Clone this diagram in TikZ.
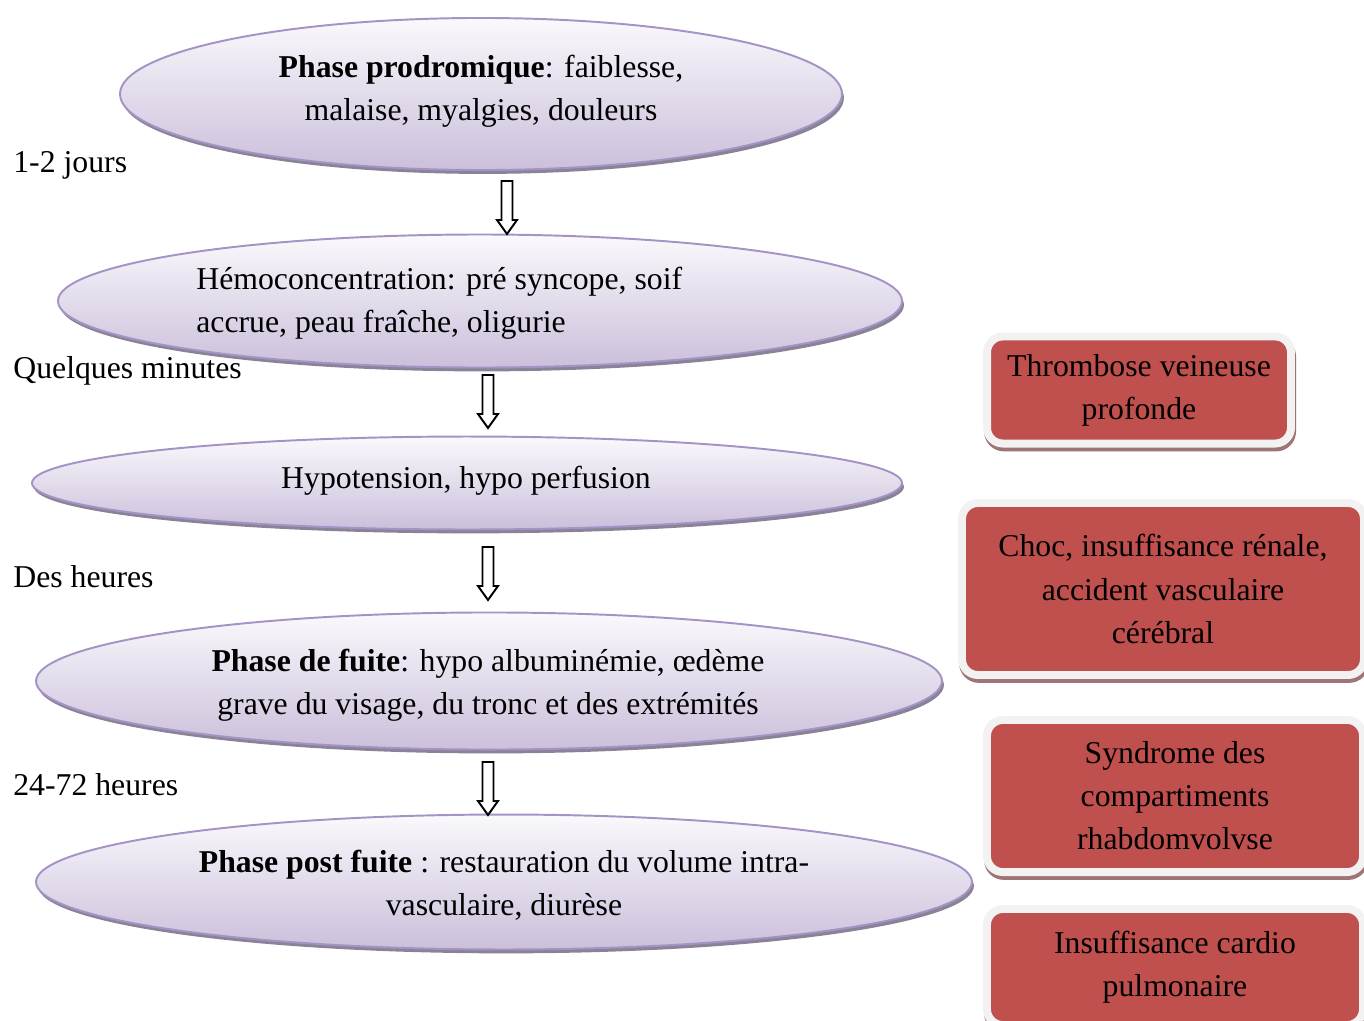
\documentclass[tikz,border=0pt]{standalone}
\usepackage{fontspec}
\setmainfont{Liberation Serif}
\usetikzlibrary{shapes.geometric,shadows}
\definecolor{lavtop}{HTML}{FAF9FC}
\definecolor{lavbot}{HTML}{CBBFDB}
\definecolor{lavline}{HTML}{A493C4}
\definecolor{lavshadow}{HTML}{8A8296}
\definecolor{boxred}{HTML}{C0504D}
\definecolor{boxrim}{HTML}{F2F2F2}
\definecolor{redshadow}{HTML}{9E7474}
\newcommand\hollowarrow[4]{% name, x, ytop, ytip
  \coordinate (#1) at (#2,#3);
  \draw[arrowline] (#2-5.5,#3) -- (#2+5.5,#3) -- (#2+5.5,#4-14) -- (#2+10,#4-14)
    -- (#2,#4) -- (#2-10,#4-14) -- (#2-5.5,#4-14) -- cycle;}
\begin{document}
\begin{tikzpicture}[x=0.5669pt,y=-0.5669pt,
  font=\fontsize{18}{24.4}\selectfont,
  phase/.style={ellipse, draw=lavline, line width=1.1pt, top color=lavtop, bottom color=lavbot,
    inner sep=0pt, general shadow={fill=lavshadow, shadow xshift=1.1pt, shadow yshift=-2.2pt}},
  txt/.style={inner sep=0pt, align=center, text=black},
  lbl/.style={inner sep=0pt, anchor=west, text=black},
  rbox/.style={rectangle, rounded corners=9pt, fill=boxred, draw=boxrim, line width=4.5pt,
    align=center, inner sep=0pt, text=black,
    general shadow={fill=redshadow, draw=redshadow, line width=4.5pt, shadow xshift=0.6pt, shadow yshift=-2.2pt}},
  arrowline/.style={draw=black, line width=1.1pt, fill=white, line join=miter}
]
\useasboundingbox (0,0) rectangle (1364,1021);

% ellipses
\node[phase, minimum width=409.3pt, minimum height=86.2pt] (e1) at (481,94) {};
\node[phase, minimum width=478.5pt, minimum height=75.4pt] (e2) at (480,301) {};
\node[phase, minimum width=493.2pt, minimum height=52.7pt] (e3) at (467,483) {};
\node[phase, minimum width=513.6pt, minimum height=77.7pt] (e4) at (489,681) {};
\node[phase, minimum width=530.6pt, minimum height=76.5pt] (e5) at (504,882) {};

% ellipse texts
\node[txt] (t1) at (481,91) {\textbf{Phase prodromique}: faiblesse,\\malaise, myalgies, douleurs};
\node[txt, align=left, anchor=west] (t2) at (196,303) {Hémoconcentration: pré syncope, soif\\accrue, peau fraîche, oligurie};
\node[txt] (t3) at (466,481) {Hypotension, hypo perfusion};
\node[txt] (t4) at (488,685) {\textbf{Phase de fuite}: hypo albuminémie, œdème\\grave du visage, du tronc et des extrémités};
\node[txt] (t5) at (504,885) {\textbf{Phase post fuite} : restauration du volume intra-\\vasculaire, diurèse};

% time labels
\node[lbl] (l1) at (13,165) {1-2 jours};
\node[lbl] (l2) at (13,371) {Quelques minutes};
\node[lbl] (l3) at (13,577) {Des heures};
\node[lbl] (l4) at (13,785) {24-72 heures};

% hollow arrows
\hollowarrow{a1}{507}{181}{234}
\hollowarrow{a2}{488}{375}{428}
\hollowarrow{a3}{488}{547}{600}
\hollowarrow{a4}{488}{762}{815}

% complication boxes
\node[rbox, minimum width=172.3pt, minimum height=60.7pt] (b1) at (1139,390) {Thrombose veineuse\\profonde};
\node[rbox, minimum width=227.9pt, minimum height=97.5pt] (b2) at (1163,589) {Choc, insuffisance rénale,\\accident vasculaire\\cérébral};
\node[rbox, minimum width=213.2pt, minimum height=86.2pt] (b3) at (1175,796) {Syndrome des\\compartiments\\rhabdomvolvse};
\node[rbox, minimum width=213.2pt, minimum height=65.8pt] (b4) at (1175,967) {Insuffisance cardio\\pulmonaire};
\end{tikzpicture}
\end{document}
